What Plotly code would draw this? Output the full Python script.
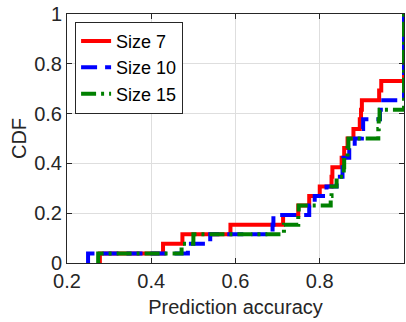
import plotly.graph_objects as go

# Sorted prediction-accuracy samples (26 per series), read from the CDF steps
size7 = [0.278, 0.428, 0.474, 0.588, 0.713, 0.749, 0.775, 0.800, 0.828, 0.830,
         0.852, 0.858, 0.866, 0.880, 0.895, 0.898, 0.900, 0.941, 0.946,
         1.0, 1.0, 1.0, 1.0, 1.0, 1.0, 1.0]
size10 = [0.250, 0.487, 0.540, 0.688, 0.690, 0.775, 0.788, 0.816, 0.840, 0.854,
          0.856, 0.870, 0.883, 0.900, 0.903, 0.943, 0.945,
          1.0, 1.0, 1.0, 1.0, 1.0, 1.0, 1.0, 1.0, 1.0]
size15 = [0.274, 0.472, 0.500, 0.715, 0.749, 0.750, 0.826, 0.828, 0.840, 0.857,
          0.858, 0.866, 0.868, 0.939, 0.940, 0.942,
          1.0, 1.0, 1.0, 1.0, 1.0, 1.0, 1.0, 1.0, 1.0, 1.0]

series_names = ["Size 7", "Size 10", "Size 15"]
series_data = [size7, size10, size15]
colors = ["#FF0000", "#0000FF", "#008000"]
dashes = ["solid", "16px,8px", "15px,5px,3px,5px"]

x_ticks = [0.2, 0.4, 0.6, 0.8, 1.0]
x_ticklabels = ["0.2", "0.4", "0.6", "0.8", "1"]
y_ticks = [0, 0.2, 0.4, 0.6, 0.8, 1.0]
y_ticklabels = ["0", "0.2", "0.4", "0.6", "0.8", "1"]

FONT = "Liberation Sans, Arial, sans-serif"
AX = "#262626"

fig = go.Figure()
for name, vals, col, dash in zip(series_names, series_data, colors, dashes):
    v = sorted(vals)
    n = len(v)
    xs = [v[0]] + v
    ys = [0.0] + [(k + 1) / n for k in range(n)]
    fig.add_trace(go.Scatter(
        x=xs, y=ys, mode="lines", name=name,
        line=dict(color=col, width=4, dash=dash, shape="hv"),
    ))

axis_common = dict(
    showline=True, linecolor=AX, linewidth=1, mirror="ticks",
    ticks="inside", ticklen=5, tickcolor=AX, tickwidth=1,
    showgrid=True, gridcolor="#dedede", gridwidth=1,
    zeroline=False, tickfont=dict(family=FONT, size=20, color=AX),
)

fig.update_xaxes(range=[0.2, 1.0], tickvals=x_ticks, ticktext=x_ticklabels,
                 title=dict(text="Prediction accuracy", font=dict(family=FONT, size=20, color=AX), standoff=8),
                 **axis_common)
fig.update_yaxes(range=[0, 1.0], tickvals=y_ticks, ticktext=y_ticklabels,
                 title=dict(text="CDF", font=dict(family=FONT, size=20, color=AX), standoff=2),
                 **axis_common)

fig.update_layout(
    width=406, height=322,
    margin=dict(l=67, r=2, t=14, b=59),
    paper_bgcolor="white", plot_bgcolor="white",
    font=dict(family=FONT, size=20, color="black"),
    showlegend=True,
    legend=dict(x=0.024, y=0.969, xanchor="left", yanchor="top",
                bgcolor="white", bordercolor=AX, borderwidth=1,
                font=dict(family=FONT, size=18, color="black"),
                itemwidth=30, tracegroupgap=0),
)

fig.write_html("out.html")
